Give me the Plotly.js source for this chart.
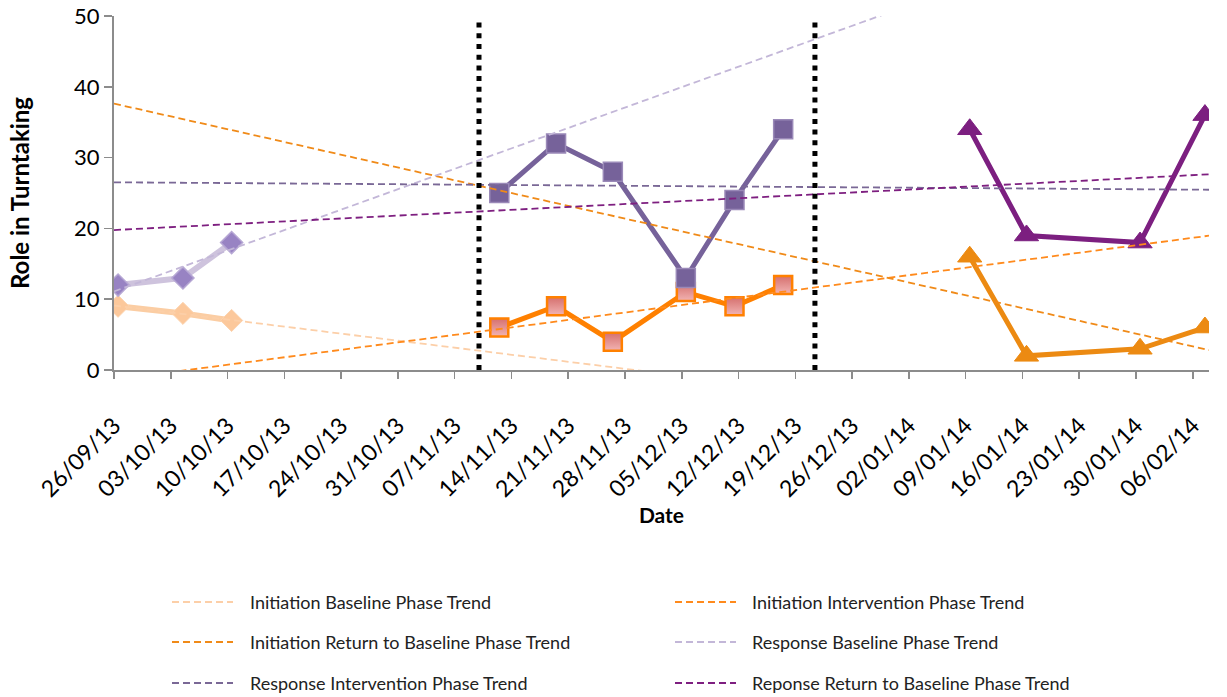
<!DOCTYPE html>
<html>
<head>
<meta charset="utf-8">
<script src="https://cdn.plot.ly/plotly-3.0.1.min.js"></script>
<style>
  html, body { margin: 0; padding: 0; background: #ffffff; }
  #chart { width: 1227px; height: 697px; }
</style>
</head>
<body>
<div id="chart"></div>
<script>
// ---------------- data ----------------
const baselineDates     = ['2013-09-26', '2013-10-04', '2013-10-10'];
const initiationBase    = [9, 8, 7];
const responseBase      = [12, 13, 18];

const interventionDates = ['2013-11-12', '2013-11-19', '2013-11-26', '2013-12-05', '2013-12-11', '2013-12-17'];
const initiationInterv  = [6, 9, 4, 11, 9, 12];
const responseInterv    = [25, 32, 28, 13, 24, 34];

const returnDates       = ['2014-01-09', '2014-01-16', '2014-01-30', '2014-02-07'];
const initiationReturn  = [16, 2, 3, 6];
const responseReturn    = [34, 19, 18, 36];

const phaseChangeDates  = ['2013-11-10 00:00', '2013-12-21 10:00'];

const axisStart = '2013-09-26';
const axisEnd   = '2014-02-08';

const yTitle = 'Role in Turntaking';
const xTitle = 'Date';

const trendNames = [
  'Initiation Baseline Phase Trend',
  'Initiation Intervention Phase Trend',
  'Initiation Return to Baseline Phase Trend',
  'Response Baseline Phase Trend',
  'Response Intervention Phase Trend',
  'Reponse Return to Baseline Phase Trend'
];

// ---------------- helpers ----------------
const DAY = 86400000;
const ms = d => new Date(d.replace(' ', 'T') + (d.length > 10 ? ':00Z' : 'T00:00:00Z')).getTime();
const fmt = v => new Date(v).toISOString().slice(0, 19).replace('T', ' ');
// Excel date axis draws each day's point in the middle of the day slot
const mid = d => fmt(ms(d) + DAY / 2);

function trend(dates, values) {
  const xs = dates.map(d => (ms(d) + DAY / 2) / DAY);
  const n = xs.length;
  const mx = xs.reduce((a, b) => a + b, 0) / n;
  const my = values.reduce((a, b) => a + b, 0) / n;
  let sxy = 0, sxx = 0;
  for (let i = 0; i < n; i++) { sxy += (xs[i] - mx) * (values[i] - my); sxx += (xs[i] - mx) ** 2; }
  const slope = sxy / sxx;
  const ends = [ms(axisStart) / DAY, ms(axisEnd) / DAY];
  return { x: ends.map(e => fmt(e * DAY)), y: ends.map(e => my + slope * (e - mx)) };
}

const FONT = 'Lato, "Open Sans", "DejaVu Sans", sans-serif';

// ---------------- traces ----------------
const traces = [];
function series(dates, vals, lineColor, lineWidth, marker) {
  traces.push({
    type: 'scatter', mode: 'lines+markers', showlegend: false, hoverinfo: 'x+y',
    x: dates.map(mid), y: vals,
    line: { color: lineColor, width: lineWidth },
    marker: marker
  });
}

series(baselineDates, initiationBase, '#FBCDA3', 6,
  { symbol: 'diamond', size: 17, color: '#FCC89B', line: { color: '#FCD3AE', width: 1 } });
series(baselineDates, responseBase, '#CEC3DD', 6,
  { symbol: 'diamond', size: 17, color: '#9883C3', line: { color: '#B6A7D4', width: 1.5 } });
series(interventionDates, initiationInterv, '#FF8000', 5,
  { symbol: 'square', size: 18, color: '#D5706E', gradient: { type: 'vertical', color: '#F2B4B3' },
    line: { color: '#FF8000', width: 2.5 } });
series(interventionDates, responseInterv, '#76629A', 5,
  { symbol: 'square', size: 19, color: '#76629A', line: { color: '#9A89B8', width: 1.5 } });
series(returnDates, initiationReturn, '#EC8A12', 5,
  { symbol: 'triangle-up', size: 21, color: '#EC8A12', line: { color: '#EC8A12', width: 1 } });
series(returnDates, responseReturn, '#7C1F80', 5,
  { symbol: 'triangle-up', size: 21, color: '#7C1F80', line: { color: '#7C1F80', width: 1 } });

const trendSpecs = [
  { dates: baselineDates,     vals: initiationBase,   color: '#FCCFA8' },
  { dates: interventionDates, vals: initiationInterv, color: '#FF8A1C' },
  { dates: returnDates,       vals: initiationReturn, color: '#F08A18' },
  { dates: baselineDates,     vals: responseBase,     color: '#C3B7D8' },
  { dates: interventionDates, vals: responseInterv,   color: '#7A6896' },
  { dates: returnDates,       vals: responseReturn,   color: '#7E1F80' }
];
trendSpecs.forEach((s, i) => {
  const t = trend(s.dates, s.vals);
  traces.push({
    type: 'scatter', mode: 'lines', name: trendNames[i], showlegend: false, hoverinfo: 'name',
    x: t.x, y: t.y, line: { color: s.color, width: 1.8, dash: '7px,4px' }
  });
});

// ---------------- layout ----------------
const L = 114, R = 18, T = 16, B = 327, W = 1227, H = 697;
const pw = W - L - R, ph = H - T - B;
const px = p => (p - L) / pw;
const py = p => (H - B - p) / ph;

const shapes = phaseChangeDates.map(d => ({
  type: 'line', xref: 'x', yref: 'y', x0: d, x1: d, y0: 0, y1: 49.5, layer: 'above',
  line: { color: '#000000', width: 5, dash: '5px,5.7px' }
}));

// legend (two columns, three rows)
const annotations = [];
const legendCols = [[172, 248], [675, 750]];
const legendRows = [602, 642, 683];
trendNames.forEach((name, i) => {
  const col = legendCols[i % 2], row = legendRows[Math.floor(i / 2)];
  shapes.push({
    type: 'line', xref: 'paper', yref: 'paper',
    x0: px(col[0]), x1: px(col[0] + 61), y0: py(row), y1: py(row),
    line: { color: trendSpecs[i].color, width: 1.8, dash: '7px,4px' }
  });
  annotations.push({
    xref: 'paper', yref: 'paper', x: px(col[1]), y: py(row), xanchor: 'left', yanchor: 'middle',
    text: name, showarrow: false, font: { family: FONT, size: 18, color: '#222222' }
  });
});

const layout = {
  width: W, height: H,
  margin: { l: L, r: R, t: T, b: B },
  paper_bgcolor: '#ffffff', plot_bgcolor: '#ffffff',
  font: { family: FONT, color: '#000000' },
  showlegend: false,
  xaxis: {
    type: 'date', range: [axisStart, axisEnd],
    tick0: axisStart, dtick: 7 * DAY, tickformat: '%d/%m/%y',
    tickangle: -45, ticks: 'outside', ticklen: 7, tickwidth: 1.5, tickcolor: '#8C8C8C',
    showline: true, linecolor: '#8C8C8C', linewidth: 2, showgrid: false, zeroline: false,
    tickfont: { family: FONT, size: 23, color: '#000000' },
    ticklabelstandoff: 24,
    title: { text: xTitle, font: { family: FONT, size: 21, color: '#000000', weight: 'bold' }, standoff: 2 },
    automargin: false
  },
  yaxis: {
    range: [0, 50], dtick: 10, ticks: 'outside', ticklen: 8, tickwidth: 1.5, tickcolor: '#8C8C8C',
    showline: true, linecolor: '#8C8C8C', linewidth: 2, showgrid: false, zeroline: false,
    tickfont: { family: FONT, size: 22, color: '#000000' },
    title: { text: yTitle, font: { family: FONT, size: 24, color: '#000000', weight: 'bold' }, standoff: 38 },
    automargin: false
  },
  shapes: shapes,
  annotations: annotations
};

Plotly.newPlot('chart', traces, layout, { displayModeBar: false, staticPlot: true });
</script>
</body>
</html>
